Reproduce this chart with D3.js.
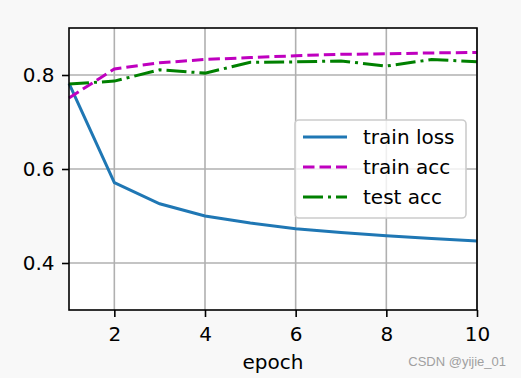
<!DOCTYPE html>
<html>
<head>
<meta charset="utf-8">
<script src="https://cdn.jsdelivr.net/npm/d3@7"></script>
<style>
  body { margin: 0; background: #f8f8f8; }
  text { font-family: "DejaVu Sans", sans-serif; }
</style>
</head>
<body>
<div id="chart"></div>
<script>
const width = 521,
    height = 378,
    margin = ({ top: 28, right: 44, bottom: 68, left: 69 });

// data
const epochs = [1, 2, 3, 4, 5, 6, 7, 8, 9, 10];
const trainLoss = [0.782, 0.571, 0.526, 0.500, 0.485, 0.473, 0.465, 0.458, 0.452, 0.447];
const trainAcc = [0.751, 0.813, 0.826, 0.833, 0.837, 0.841, 0.844, 0.845, 0.847, 0.848];
const testAcc = [0.781, 0.787, 0.811, 0.804, 0.827, 0.828, 0.830, 0.819, 0.833, 0.828];
const xTicks = [2, 4, 6, 8, 10];
const yTicks = [0.4, 0.6, 0.8];

const series = [
  { name: "train loss", values: trainLoss, color: "#1f77b4", dash: null },
  { name: "train acc", values: trainAcc, color: "#bf00bf", dash: "11.5,5" },
  { name: "test acc", values: testAcc, color: "#008000", dash: "20,5,3,5" }
];

const svg = d3.select("#chart")
  .append("svg")
  .attr("width", width)
  .attr("height", height);

let x = d3.scaleLinear()
  .domain([1, 10])
  .range([margin.left, width - margin.right]);

let y = d3.scaleLinear()
  .domain([0.3, 0.9])
  .range([height - margin.bottom, margin.top]);

// plot background
svg.append("rect")
  .attr("x", margin.left)
  .attr("y", margin.top)
  .attr("width", x.range()[1] - x.range()[0])
  .attr("height", y.range()[0] - y.range()[1])
  .attr("fill", "white");

// grid
svg.append("g")
  .selectAll("line")
  .data(xTicks)
  .join("line")
  .attr("x1", d => x(d)).attr("x2", d => x(d))
  .attr("y1", margin.top).attr("y2", height - margin.bottom)
  .attr("stroke", "#b0b0b0").attr("stroke-width", 1.6);

svg.append("g")
  .selectAll("line")
  .data(yTicks)
  .join("line")
  .attr("y1", d => y(d)).attr("y2", d => y(d))
  .attr("x1", margin.left).attr("x2", width - margin.right)
  .attr("stroke", "#b0b0b0").attr("stroke-width", 1.6);

// lines
let line = d3.line()
  .x((d, i) => x(epochs[i]))
  .y(d => y(d));

svg.append("g")
  .selectAll("path")
  .data(series)
  .join("path")
  .attr("d", d => line(d.values))
  .attr("fill", "none")
  .attr("stroke", d => d.color)
  .attr("stroke-width", 3)
  .attr("stroke-dasharray", d => d.dash);

// axes
const xAxis = svg.append("g")
  .attr("transform", `translate(0,${height - margin.bottom})`)
  .call(d3.axisBottom(x).tickValues(xTicks).tickSize(7).tickPadding(10).tickSizeOuter(0));

const yAxis = svg.append("g")
  .attr("transform", `translate(${margin.left},0)`)
  .call(d3.axisLeft(y).tickValues(yTicks).tickFormat(d3.format(".1f")).tickSize(7).tickPadding(7.5).tickSizeOuter(0));

for (const ax of [xAxis, yAxis]) {
  ax.select(".domain").remove();
  ax.selectAll(".tick line").attr("stroke", "black").attr("stroke-width", 1.6);
  ax.selectAll(".tick text")
    .attr("fill", "black")
    .style("font-size", "20px")
    .style("font-family", "DejaVu Sans");
}

// frame
svg.append("rect")
  .attr("x", margin.left)
  .attr("y", margin.top)
  .attr("width", x.range()[1] - x.range()[0])
  .attr("height", y.range()[0] - y.range()[1])
  .attr("fill", "none")
  .attr("stroke", "black")
  .attr("stroke-width", 1.6);

svg.append("text")
  .attr("x", (x.range()[0] + x.range()[1]) / 2)
  .attr("y", 369)
  .attr("text-anchor", "middle")
  .style("font-size", "20px")
  .text("epoch");

// legend
const legend = svg.append("g");
legend.append("rect")
  .attr("x", 295).attr("y", 120)
  .attr("width", 171).attr("height", 98)
  .attr("rx", 4)
  .attr("fill", "white").attr("fill-opacity", 0.8)
  .attr("stroke", "#cccccc").attr("stroke-width", 1.6);

const item = legend.selectAll("g.item")
  .data(series)
  .join("g")
  .attr("class", "item")
  .attr("transform", (d, i) => `translate(0,${137 + i * 30})`);

item.append("line")
  .attr("x1", 303).attr("x2", 347)
  .attr("stroke", d => d.color)
  .attr("stroke-width", 3)
  .attr("stroke-dasharray", d => d.dash);

item.append("text")
  .attr("x", 363)
  .attr("dy", "0.35em")
  .style("font-size", "20px")
  .text(d => d.name);

svg.append("text")
  .attr("x", 506)
  .attr("y", 366)
  .attr("text-anchor", "end")
  .attr("fill", "#a0a0a0")
  .style("font-family", "Liberation Sans, sans-serif")
  .style("font-size", "13px")
  .text("CSDN @yijie_01");
</script>
</body>
</html>
